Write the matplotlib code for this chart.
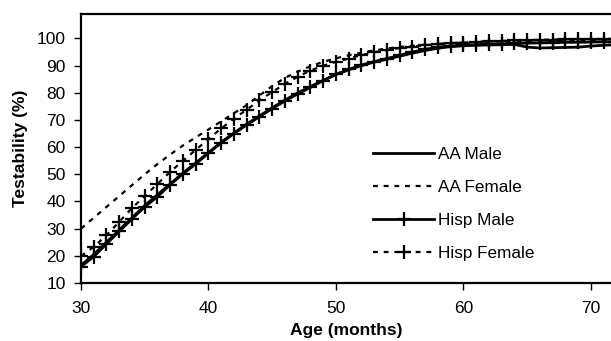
import numpy as np
import matplotlib
matplotlib.use("Agg")
from matplotlib import pyplot as plt

plt.rcParams['font.family'] = ['Liberation Sans', 'DejaVu Sans']

# age in months
months = list(range(30, 73))

aa_male = [16.5, 20.5, 25, 29.5, 34, 38.5, 42.5, 46.5, 50.5, 54.2,
           58, 61.8, 65.2, 68.5, 71.5, 74.5, 77.3, 80, 82.3, 84.6,
           86.7, 88.5, 90, 91.3, 92.4, 93.5, 94.6, 95.6, 96.4, 97,
           97.3, 97.5, 97.6, 97.7, 97.8, 96.8, 96.5, 96.6, 96.7, 96.8,
           97.2, 97.5, 97.7]
aa_female = [30, 34, 38, 42, 46, 50, 53.8, 57.3, 60.6, 63.6,
             66.5, 69.5, 72.5, 75.5, 79, 82.5, 85.5, 87.8, 89.8, 91.4,
             92.7, 93.8, 94.8, 95.6, 96.3, 96.9, 97.3, 97.7, 98, 98.3,
             98.5, 98.7, 98.8, 98.9, 99, 99, 99.1, 99.1, 99.2, 99.2,
             99.3, 99.3, 99.3]
hisp_male = [16, 19.7, 24.4, 29, 33.6, 38, 41.8, 46.2, 50.2, 53.8,
             57.8, 61.6, 65, 68.2, 71.2, 74.2, 77, 79.6, 82, 84.5,
             86.8, 88.6, 90.2, 91.5, 92.6, 93.8, 95, 96, 96.8, 97.2,
             97.5, 97.7, 97.9, 98, 98.2, 98.3, 98.4, 98.5, 98.6, 98.6,
             98.7, 98.8, 98.8]
hisp_female = [19.9, 23.3, 27.6, 32.5, 37.6, 42, 46.5, 50.9, 55, 59,
               63, 66.9, 70.5, 73.8, 77.2, 80.3, 83.3, 85.9, 88.2, 90,
               91.4, 92.6, 93.9, 94.9, 95.8, 96.5, 97, 97.5, 98, 98.3,
               98.5, 98.7, 98.9, 99.1, 99.3, 99.4, 99.5, 99.6, 99.7, 99.7,
               99.8, 99.8, 99.9]

fig = plt.figure(figsize=(6.11, 3.41), dpi=100)
ax = fig.add_axes([81/611, 1 - 283/341, 1 - 81/611, (283 - 14)/341])

dots = (0, (2.2, 2.6))
ax.plot(months, aa_male, color='black', lw=2, label='AA Male')
ax.plot(months, aa_female, color='black', lw=1.6, ls=dots, label='AA Female')
ax.plot(months, hisp_male, color='black', lw=2, marker='+', ms=10, mew=1.6,
        label='Hisp Male')
ax.plot(months, hisp_female, color='black', lw=1.6, ls=dots, marker='+',
        ms=10, mew=1.6, label='Hisp Female')

ax.set_xlim(30, 71.57)
ax.set_ylim(10, 109)
ax.set_xticks([30, 40, 50, 60, 70])
ax.set_yticks(range(10, 101, 10))
ax.spines['right'].set_visible(False)
for s in ['left', 'bottom', 'top']:
    ax.spines[s].set_linewidth(1.6)
ax.tick_params(direction='out', length=5, width=1, labelsize=12.5)
ax.tick_params(axis='x', pad=8)
ax.tick_params(axis='y', pad=6)

ax.set_xlabel('Age (months)', fontsize=12.5, fontweight='bold', va='top')
ax.xaxis.set_label_coords(0.5, -0.15)
ax.set_ylabel('Testability (%)', fontsize=12.5, fontweight='bold')
ax.yaxis.set_label_coords(-0.1, 0.5)

ax.legend(loc='upper left', bbox_to_anchor=(0.538, 0.531), frameon=False,
          fontsize=12.3, handlelength=3.6, handletextpad=0.2,
          labelspacing=1.05, numpoints=1, borderaxespad=0)

fig.savefig('out.png', dpi=100)
